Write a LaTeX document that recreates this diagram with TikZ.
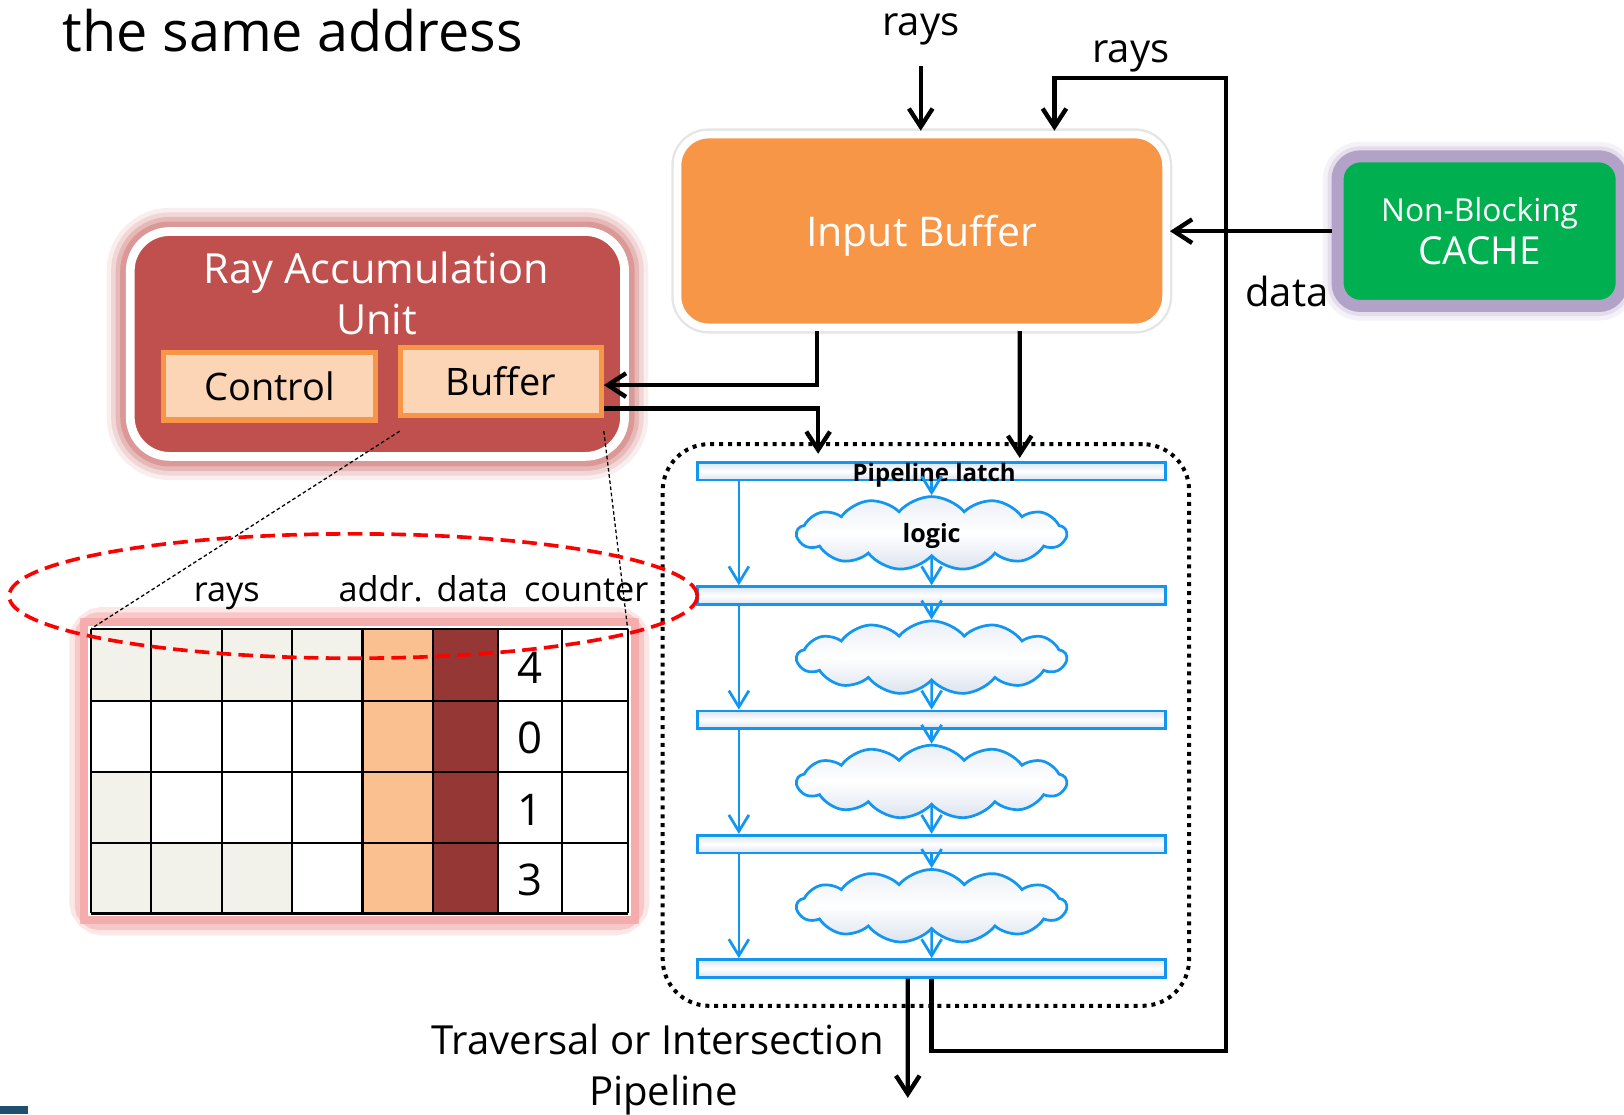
\documentclass[tikz,border=0pt]{standalone}
\usepackage{fontspec}
\setmainfont{Open Sans}
\usetikzlibrary{arrows.meta,shapes.symbols,shapes.geometric}

\definecolor{ibuforange}{HTML}{F79646}
\definecolor{raured}{HTML}{C0504D}
\definecolor{subfill}{HTML}{FBD5B5}
\definecolor{cachegreen}{HTML}{00B050}
\definecolor{cachepurple}{HTML}{B3A2C7}
\definecolor{pipeblue}{RGB}{18,150,240}
\definecolor{latchshade}{HTML}{DCE3EF}
\definecolor{cellbeige}{HTML}{F3F2EA}
\definecolor{addrpeach}{HTML}{FAC090}
\definecolor{datared}{HTML}{953735}
\definecolor{tabglow}{HTML}{F29A9A}
\definecolor{slidebar}{HTML}{1F4E6E}

\begin{document}
\begin{tikzpicture}[x=0.01cm,y=-0.01cm,
  arr/.style={-{Straight Barb[length=5pt,width=6.5pt]},line width=1.2pt},
  barr/.style={-{Straight Barb[length=4.5pt,width=5.5pt]},line width=0.75pt,draw=pipeblue},
  lbl/.style={font=\fontsize{11}{13}\selectfont,anchor=base,inner sep=0pt},
  hdr/.style={font=\fontsize{9.4}{11}\selectfont,anchor=base,inner sep=0pt},
  cnttxt/.style={font=\fontsize{12}{14}\selectfont,anchor=base,inner sep=0pt},
  ibufbox/.style={rectangle,rounded corners=0.3cm,fill=ibuforange,draw=white,line width=2.1pt,
    minimum width=4.715cm,minimum height=1.86cm,text=white,text depth=0pt,
    font=\fontsize{11.25}{13}\selectfont,preaction={draw=black!10,line width=3.4pt}},
  raubox/.style={rectangle,rounded corners=0.38cm,fill=raured,draw=white,line width=2.4pt,
    minimum width=4.77cm,minimum height=2.17cm,
    preaction={draw=raured,draw opacity=.1,line width=13pt},
    preaction={draw=raured,draw opacity=.15,line width=10.5pt},
    preaction={draw=raured,draw opacity=.22,line width=8pt},
    preaction={draw=raured,draw opacity=.3,line width=5.5pt}},
  subbox/.style={rectangle,fill=subfill,draw=ibuforange,line width=1.4pt,
    font=\fontsize{10.4}{12}\selectfont,minimum height=0.65cm},
  cachebox/.style={rectangle,rounded corners=0.22cm,fill=cachegreen,draw=cachepurple,line width=3.3pt,
    text=white,align=center,minimum width=2.742cm,minimum height=1.444cm,
    preaction={draw=cachepurple,draw opacity=.15,line width=8pt},
    preaction={draw=cachepurple,draw opacity=.25,line width=5.5pt}},
  pipebox/.style={rectangle,rounded corners=0.45cm,draw=black,line width=1.1pt,
    dash pattern=on 1.1pt off 1.35pt,minimum width=5.08cm,minimum height=5.42cm},
  latch/.style={rectangle,draw=pipeblue,line width=0.75pt,top color=latchshade,bottom color=latchshade,
    middle color=white,minimum width=4.52cm,minimum height=0.17cm,inner sep=0pt},
  logiccloud/.style={cloud,cloud puffs=13,cloud puff arc=100,cloud ignores aspect,draw=pipeblue,
    line width=0.75pt,top color=latchshade!60,bottom color=latchshade,middle color=white,
    minimum width=2.6cm,minimum height=0.71cm,inner sep=0pt,text depth=0pt,
    font=\bfseries\fontsize{6.9}{8}\selectfont},
  selring/.style={ellipse,draw=red,line width=1pt,dash pattern=on 4pt off 2pt,
    minimum width=6.64cm,minimum height=1.2cm,inner sep=0pt},
  gridline/.style={draw=black,line width=0.6pt},
  zoomline/.style={draw=black,line width=0.35pt,dash pattern=on 1pt off 0.7pt}
]
\useasboundingbox (0,0) rectangle (1568,1076);

\node[anchor=base west,inner sep=0pt,font=\fontsize{15.3}{18}\selectfont] (title) at (60,50) {the same address};

% input side
\node[ibufbox] (ibuf) at (890,223) {Input Buffer};
\node[lbl] (raysin) at (889,34) {rays};
\node[lbl] (raysfb) at (1092,60) {rays};
\node[cachebox] (cache) at (1428.6,223.2) {\fontsize{8.7}{12.5}\selectfont Non-Blocking\\{\fontsize{10.6}{12.5}\selectfont CACHE}};
\node[lbl] (datalbl) at (1242.5,296) {data};

% ray accumulation unit
\node[raubox] (rau) at (364.4,332.1) {};
\node[align=center,text=white,inner sep=0pt,font=\fontsize{11.4}{14}\selectfont] (raulbl) at (363.5,283.6) {Ray Accumulation\\Unit};
\node[subbox,minimum width=2.043cm] (ctrl) at (260.3,373) {Control};
\node[subbox,minimum width=1.94cm] (buf) at (483.5,368.3) {Buffer};

% pipeline
\node[pipebox] (pipe) at (894,700) {};
\foreach \i in {1,...,5}
  \node[latch] (l\i) at (899.5,455+120*\i-120) {};
\foreach \i/\txt in {1/logic,2/,3/,4/}
  \node[logiccloud] (c\i) at (899.5,515+120*\i-120) {\txt};
\node[anchor=base,inner sep=0pt,font=\bfseries\fontsize{6.6}{8}\selectfont] (latchlbl) at (902,465) {Pipeline latch};
\foreach \i/\j in {1/2,2/3,3/4,4/5} {
  \draw[barr] (l\i.south) -- (c\i.north);
  \draw[barr] (c\i.south) -- (l\j.north);
  \draw[barr] ([xshift=-1.86cm]l\i.south) -- ([xshift=-1.86cm]l\j.north);
}
\node[lbl] (travlbl) at (635,1018.6) {Traversal or Intersection};
\node[lbl] (pipelbl) at (640.5,1067) {Pipeline};

% connectors
\coordinate (fbturn) at (1183.7,75.6);
\coordinate (pipeout) at (876.5,1060);
\draw[arr] ([yshift=-0.2cm]raysin.south) -- (raysin.south |- ibuf.north);
\draw[arr] (cache.west) -- (ibuf.east |- cache.west);
\draw[arr] ([xshift=-1.01cm]ibuf.south) |- ([yshift=-0.035cm]buf.east);
\draw[arr] ([yshift=-0.26cm]buf.east) -| ([xshift=-1.095cm,yshift=0.07cm]l1.north);
\draw[arr] ([xshift=0.945cm]ibuf.south) -- ([xshift=0.85cm,yshift=0.03cm]l1.north);
\draw[arr] ([xshift=-0.23cm]l5.south) -- (pipeout);
\draw[arr] (l5.south) -- ++(0,70) -| (fbturn) -| ([xshift=1.28cm]ibuf.north);

% buffer contents
\coordinate (tabnw) at (88,607);
\coordinate (tabne) at (606,607);
\draw[draw=tabglow,draw opacity=.25,line width=12pt,rounded corners=0.12cm] (88,607) rectangle (606,882);
\draw[draw=tabglow,draw opacity=.4,line width=9pt,rounded corners=0.08cm] (88,607) rectangle (606,882);
\draw[draw=tabglow,draw opacity=.6,line width=6pt] (88,607) rectangle (606,882);
\draw[white,line width=1.6pt] (88,607) rectangle (606,882);
\fill[addrpeach] (350,607) rectangle (418,882);
\fill[datared] (418,607) rectangle (481,882);
\foreach \ya/\yb/\ca/\cb/\cc/\cd/\num in {607/677/cellbeige/cellbeige/cellbeige/cellbeige/4,
    677/745/white/white/white/white/0, 745/814/cellbeige/white/white/white/1,
    814/882/cellbeige/cellbeige/cellbeige/white/3} {
  \fill[\ca] (88,\ya) rectangle (146,\yb);
  \fill[\cb] (146,\ya) rectangle (214,\yb);
  \fill[\cc] (214,\ya) rectangle (282,\yb);
  \fill[\cd] (282,\ya) rectangle (350,\yb);
  \fill[white] (481,\ya) rectangle (606,\yb);
  \node[cnttxt] (cnt\num) at (512,\yb-17) {\num};
}
\foreach \x in {88,146,214,282,350,418,481,543,606}
  \draw[gridline] (\x,607) -- (\x,882);
\foreach \y in {607,677,745,814,882}
  \draw[gridline] (88,\y) -- (606,\y);
\node[hdr] (hrays) at (219,581) {rays};
\node[hdr] (haddr) at (367.5,581) {addr.};
\node[hdr] (hdata) at (456,581) {data};
\node[hdr] (hcnt) at (566,581) {counter};
\draw[zoomline] ([xshift=0.02cm,yshift=-0.13cm]buf.south west) -- (tabnw);
\draw[zoomline] ([yshift=-0.13cm]buf.south east) -- (tabne);
\node[selring] (sel) at (341,575.5) {};

\fill[slidebar] (0,1068) rectangle (27,1076);
\end{tikzpicture}
\end{document}
